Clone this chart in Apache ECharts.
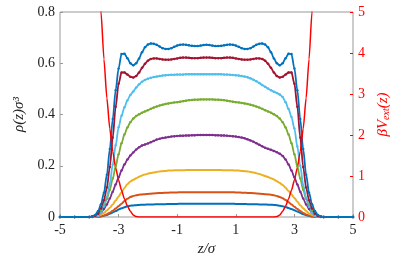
<!DOCTYPE html>
<html>
<head>
<meta charset="utf-8">
<script src="https://cdn.jsdelivr.net/npm/echarts@6/dist/echarts.min.js"></script>
<style>html,body{margin:0;padding:0;background:#fff}#c{width:399px;height:257px}</style>
</head>
<body>
<div id="c"></div>
<script>
const z = [-5,-4.5,-4,-3.9,-3.8,-3.7,-3.6,-3.5,-3.4,-3.3,-3.2,-3.1,-3,-2.9,-2.8,-2.7,-2.6,-2.5,-2.4,-2.3,-2.2,-2.1,-2,-1.9,-1.8,-1.7,-1.6,-1.5,-1.4,-1.3,-1.2,-1.1,-1,-0.9,-0.8,-0.7,-0.6,-0.5,-0.4,-0.3,-0.2,-0.1,0,0.1,0.2,0.3,0.4,0.5,0.6,0.7,0.8,0.9,1,1.1,1.2,1.3,1.4,1.5,1.6,1.7,1.8,1.9,2,2.1,2.2,2.3,2.4,2.5,2.6,2.7,2.8,2.9,3,3.1,3.2,3.3,3.4,3.5,3.6,3.7,3.8,3.9,4,4.5,5];

const rho1 = [0,0, 0,0,0,0.001,0.002,0.005,0.008,0.013,0.018,0.023,0.029,0.034,0.038,0.042,0.044,0.045,0.046,0.047,0.048,0.048,0.049,0.049,0.049,0.050,0.050,0.050,0.050,0.051,0.051,0.051,0.051,0.052,0.052,0.052,0.052,0.052,0.052,0.052,0.052,0.052,
 0.052,
 0.052,0.052,0.052,0.052,0.052,0.052,0.052,0.052,0.052,0.051,0.051,0.051,0.051,0.050,0.050,0.050,0.050,0.049,0.049,0.049,0.048,0.048,0.047,0.046,0.044,0.042,0.039,0.035,0.031,0.026,0.021,0.016,0.011,0.007,0.004,0.002,0.001,0,0,0, 0,0];

const rho2 = [0,0, 0,0,0,0.001,0.003,0.006,0.011,0.017,0.024,0.033,0.042,0.052,0.062,0.071,0.078,0.082,0.085,0.087,0.088,0.089,0.090,0.091,0.092,0.093,0.094,0.094,0.095,0.095,0.096,0.096,0.096,0.097,0.097,0.097,0.097,0.097,0.097,0.097,0.097,0.097,
 0.097,
 0.097,0.097,0.097,0.097,0.097,0.097,0.097,0.097,0.097,0.096,0.096,0.095,0.095,0.094,0.094,0.093,0.092,0.091,0.090,0.089,0.088,0.087,0.085,0.082,0.078,0.073,0.066,0.058,0.049,0.040,0.031,0.023,0.016,0.010,0.006,0.003,0.001,0,0,0, 0,0];

const rho3 = [0,0, 0,0.001,0.002,0.005,0.009,0.016,0.025,0.036,0.049,0.064,0.080,0.097,0.113,0.128,0.139,0.145,0.151,0.157,0.162,0.166,0.169,0.172,0.174,0.176,0.178,0.179,0.180,0.181,0.181,0.182,0.182,0.182,0.182,0.183,0.183,0.183,0.183,0.183,0.183,0.183,
 0.183,
 0.183,0.183,0.183,0.183,0.183,0.182,0.182,0.182,0.182,0.181,0.181,0.180,0.179,0.178,0.176,0.174,0.171,0.168,0.164,0.160,0.156,0.151,0.146,0.140,0.133,0.125,0.114,0.101,0.088,0.074,0.060,0.046,0.034,0.023,0.014,0.008,0.004,0.002,0.001,0, 0,0];

const rho4 = [0,0, 0,0.001,0.003,0.008,0.017,0.031,0.049,0.072,0.099,0.127,0.155,0.181,0.205,0.224,0.240,0.252,0.263,0.272,0.279,0.283,0.287,0.292,0.297,0.302,0.305,0.308,0.310,0.312,0.314,0.315,0.316,0.317,0.317,0.318,0.318,0.319,0.319,0.320,0.320,0.320,
 0.320,
 0.320,0.320,0.319,0.319,0.318,0.318,0.317,0.316,0.315,0.314,0.312,0.310,0.307,0.303,0.299,0.294,0.288,0.282,0.276,0.270,0.266,0.262,0.258,0.253,0.247,0.238,0.224,0.205,0.181,0.155,0.127,0.099,0.072,0.049,0.031,0.017,0.008,0.003,0.001,0, 0,0];

const rho5 = [0,0, 0,0.001,0.005,0.013,0.026,0.045,0.071,0.106,0.150,0.197,0.245,0.288,0.322,0.349,0.370,0.384,0.394,0.401,0.407,0.412,0.417,0.422,0.427,0.431,0.435,0.438,0.441,0.443,0.445,0.447,0.448,0.450,0.452,0.454,0.456,0.457,0.458,0.458,0.459,0.459,
 0.459,
 0.459,0.459,0.458,0.458,0.457,0.456,0.454,0.452,0.450,0.448,0.447,0.445,0.443,0.441,0.438,0.435,0.431,0.427,0.422,0.417,0.412,0.407,0.401,0.394,0.384,0.370,0.349,0.322,0.288,0.245,0.197,0.150,0.106,0.071,0.045,0.026,0.013,0.005,0.001,0, 0,0];

const rho6 = [0,0, 0,0,0.001,0.005,0.017,0.042,0.078,0.130,0.205,0.280,0.350,0.395,0.428,0.455,0.476,0.490,0.505,0.518,0.528,0.535,0.540,0.543,0.546,0.548,0.550,0.552,0.553,0.554,0.555,0.555,0.556,0.556,0.556,0.557,0.557,0.557,0.557,0.557,0.557,0.557,
 0.557,
 0.557,0.557,0.557,0.557,0.557,0.556,0.556,0.555,0.554,0.553,0.552,0.550,0.548,0.545,0.541,0.536,0.530,0.523,0.515,0.508,0.501,0.495,0.489,0.484,0.478,0.468,0.448,0.421,0.390,0.345,0.275,0.200,0.125,0.075,0.040,0.016,0.005,0.001,0,0, 0,0];

const rho7 = [0,0, 0,0.001,0.004,0.013,0.033,0.065,0.115,0.195,0.310,0.430,0.520,0.564,0.564,0.556,0.547,0.544,0.550,0.564,0.582,0.598,0.610,0.617,0.619,0.619,0.617,0.615,0.614,0.614,0.615,0.617,0.619,0.621,0.622,0.622,0.621,0.620,0.620,0.620,0.621,0.622,
 0.622,
 0.622,0.621,0.620,0.620,0.620,0.621,0.622,0.622,0.621,0.619,0.617,0.615,0.614,0.614,0.615,0.617,0.619,0.619,0.617,0.610,0.598,0.582,0.564,0.550,0.544,0.547,0.556,0.564,0.564,0.520,0.430,0.310,0.195,0.115,0.065,0.033,0.013,0.004,0.001,0, 0,0];

const rho8 = [0,0, 0,0.002,0.008,0.023,0.050,0.095,0.165,0.265,0.382,0.495,0.580,0.636,0.637,0.620,0.600,0.592,0.600,0.619,0.643,0.662,0.673,0.677,0.676,0.672,0.665,0.659,0.656,0.656,0.659,0.664,0.669,0.672,0.673,0.672,0.670,0.668,0.667,0.667,0.669,0.671,
 0.672,
 0.671,0.669,0.667,0.667,0.668,0.670,0.672,0.673,0.672,0.669,0.664,0.659,0.656,0.656,0.659,0.665,0.672,0.676,0.677,0.673,0.662,0.643,0.619,0.600,0.592,0.600,0.620,0.637,0.636,0.580,0.495,0.382,0.265,0.165,0.095,0.050,0.023,0.008,0.002,0, 0,0];

const vext = [45,25, 11.5,9.5,7.8,6.3,5.0,3.85,2.9,2.15,1.6,1.2,0.9,0.65,0.44,0.27,0.14,0.05,0.01,0,0,0,0,0,0,0,0,0,0,0,0,0,0,0,0,0,0,0,0,0,0,0,
 0,
 0,0,0,0,0,0,0,0,0,0,0,0,0,0,0,0,0,0,0,0,0,0,0,0.01,0.05,0.14,0.27,0.44,0.65,0.9,1.2,1.6,2.15,2.9,3.85,5.0,6.3,7.8,9.5,11.5, 25,45];

const xTicks = [-5,-3,-1,1,3,5];
const rhoSeries = [rho1, rho2, rho3, rho4, rho5, rho6, rho7, rho8];
const rhoColors = ['#0072BD','#D95319','#EDB120','#7E2F8E','#77AC30','#4DBEEE','#A2142F','#0072BD'];
const dotted = [false,false,false,true,true,true,true,true];

const font = 'Liberation Serif';
const pair = arr => z.map((v, i) => [v, arr[i]]);

const series = rhoSeries.map((arr, k) => ({
  type: 'line', xAxisIndex: 0, yAxisIndex: 0,
  data: pair(arr),
  smooth: 0.3, smoothMonotone: 'x',
  showSymbol: dotted[k], showAllSymbol: true,
  symbol: 'circle', symbolSize: 2.5,
  itemStyle: {color: rhoColors[k]},
  lineStyle: {color: rhoColors[k], width: dotted[k] ? 1.8 : 2},
  silent: true, animation: false
}));
series.push({
  type: 'line', xAxisIndex: 0, yAxisIndex: 1,
  data: pair(vext), smooth: 0.2, smoothMonotone: 'x',
  showSymbol: false, clip: true,
  lineStyle: {color: '#FF0000', width: 1.5},
  silent: true, animation: false
});

const chart = echarts.init(document.getElementById('c'), null, {renderer: 'canvas'});
chart.setOption({
  animation: false,
  backgroundColor: '#fff',
  grid: {left: 60, right: 46, top: 12, bottom: 40, outerBoundsMode: 'none', containLabel: false,
         show: true, borderColor: '#999', borderWidth: 1, backgroundColor: 'transparent'},
  xAxis: {
    type: 'value', min: -5, max: 5,
    name: 'z/σ', nameLocation: 'middle', nameGap: 23,
    nameTextStyle: {fontFamily: font, fontStyle: 'italic', fontSize: 15, color: '#222'},
    axisLine: {show: false, onZero: false},
    axisTick: {show: true, inside: true, length: 3, lineStyle: {color: '#999'}, customValues: xTicks},
    axisLabel: {customValues: xTicks, fontFamily: font, fontSize: 14, color: '#222', margin: 6},
    splitLine: {show: false}
  },
  yAxis: [{
    type: 'value', min: 0, max: 0.8, interval: 0.2, position: 'left',
    name: 'ρ(z)σ³', nameLocation: 'middle', nameGap: 31, nameRotate: 90,
    nameTextStyle: {fontFamily: font, fontStyle: 'italic', fontSize: 15, color: '#222'},
    axisLine: {show: false, onZero: false},
    axisTick: {show: true, inside: true, length: 3, lineStyle: {color: '#999'}},
    axisLabel: {fontFamily: font, fontSize: 14, color: '#222', margin: 5},
    splitLine: {show: false}
  }, {
    type: 'value', min: 0, max: 5, interval: 1, position: 'right',
    name: '{a|βV}{b|ext}{a|(z)}', nameLocation: 'middle', nameGap: 16, nameRotate: 90,
    nameTextStyle: {color: '#FF0000', rich: {
      a: {fontFamily: font, fontStyle: 'italic', fontSize: 15, color: '#FF0000'},
      b: {fontFamily: font, fontStyle: 'italic', fontSize: 10, color: '#FF0000', verticalAlign: 'bottom', padding: [6,0,0,0]}
    }},
    axisLine: {show: false, onZero: false},
    axisTick: {show: true, inside: true, length: 3, lineStyle: {color: '#FF0000'}},
    axisLabel: {fontFamily: font, fontSize: 14, color: '#FF0000', margin: 5},
    splitLine: {show: false}
  }],
  series: series
});
</script>
</body>
</html>
